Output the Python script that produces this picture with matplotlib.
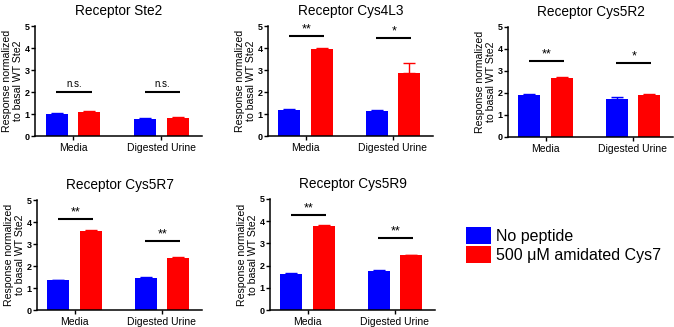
import matplotlib
matplotlib.use("Agg")
import matplotlib.pyplot as plt
from matplotlib.patches import Patch

plt.rcParams['font.family'] = ['Liberation Sans', 'DejaVu Sans']

groups = ["Media", "Digested Urine"]
titles = ["Receptor Ste2", "Receptor Cys4L3", "Receptor Cys5R2", "Receptor Cys5R7", "Receptor Cys5R9"]
no_peptide = [[1.00, 0.78], [1.18, 1.15], [1.92, 1.75], [1.35, 1.47], [1.60, 1.75]]
no_peptide_err = [[0.03, 0.03], [0.05, 0.03], [0.04, 0.05], [0.02, 0.03], [0.05, 0.04]]
cys7 = [[1.10, 0.82], [3.95, 2.88], [2.70, 1.92], [3.57, 2.38], [3.80, 2.48]]
cys7_err = [[0.04, 0.03], [0.05, 0.42], [0.03, 0.03], [0.08, 0.03], [0.03, 0.02]]
sig_labels = [["n.s.", "n.s."], ["**", "*"], ["**", "*"], ["**", "**"], ["**", "**"]]
sig_heights = [[2.0, 2.0], [4.55, 4.47], [3.45, 3.35], [4.12, 3.14], [4.3, 3.26]]
legend_labels = ["No peptide", "500 \u03bcM amidated Cys7"]
yticks = [0, 1, 2, 3, 4, 5]

BLUE = "#0000ff"
RED = "#ff0000"

W, H = 674, 327
fig = plt.figure(figsize=(W / 100, H / 100), dpi=100)

# axes boxes in pixels: left, right, top(y=5), bottom(y=0)
boxes = [(35, 202, 26, 136), (268, 433, 26, 136), (508, 673, 27, 137),
         (37, 202, 200, 310), (270, 435, 199, 310)]

for i, (l, r, t, b) in enumerate(boxes):
    ax = fig.add_axes([l / W, 1 - b / H, (r - l) / W, (b - t) / H])
    x = [0, 1]
    off = 0.185
    bw = 0.25
    for j in range(2):
        ax.bar(x[j] - off, no_peptide[i][j], width=bw, color=BLUE, zorder=2)
        ax.errorbar(x[j] - off, no_peptide[i][j], yerr=[[0], [no_peptide_err[i][j]]],
                    fmt='none', ecolor=BLUE, elinewidth=1.0, capsize=4, capthick=1.0, zorder=1)
        ax.bar(x[j] + off, cys7[i][j], width=bw, color=RED, zorder=2)
        ax.errorbar(x[j] + off, cys7[i][j], yerr=[[0], [cys7_err[i][j]]],
                    fmt='none', ecolor=RED, elinewidth=1.0, capsize=4, capthick=1.0, zorder=1)
        h = sig_heights[i][j]
        ax.plot([x[j] - 0.19, x[j] + 0.21], [h, h], color='black', lw=1.5, solid_capstyle='butt')
        lab = sig_labels[i][j]
        if lab == "n.s.":
            ax.text(x[j] + 0.01, h + 0.12, lab, ha='center', va='bottom', fontsize=7)
        else:
            ax.text(x[j] + 0.01, h + 0.02, lab, ha='center', va='bottom', fontsize=9)
    ax.set_xlim(-0.43, 1.46)
    ax.set_ylim(0, 5)
    ax.set_yticks(yticks)
    ax.set_yticklabels([str(v) for v in yticks], fontsize=6.5, fontweight='bold')
    ax.set_xticks(x)
    ax.set_xticklabels(groups, fontsize=7.5)
    ax.tick_params(axis='y', length=3, width=1.0, pad=1.0)
    ax.tick_params(axis='x', length=3, width=1.0, pad=2)
    for s in ['top', 'right']:
        ax.spines[s].set_visible(False)
    for s in ['left', 'bottom']:
        ax.spines[s].set_linewidth(1.1)
    ax.set_title(titles[i], fontsize=9.8, pad=8)
    ax.set_ylabel("Response normalized\nto basal WT Ste2", fontsize=7.6, labelpad=1, linespacing=1.1)

handles = [Patch(facecolor=BLUE), Patch(facecolor=RED)]
fig.legend(handles, legend_labels, loc='upper left', bbox_to_anchor=(455 / W, 1 - 216 / H),
           frameon=False, fontsize=11.5, handlelength=1.55, handleheight=1.2,
           handletextpad=0.3, labelspacing=0.15, borderpad=0.2)

fig.savefig("out.png", dpi=100)
